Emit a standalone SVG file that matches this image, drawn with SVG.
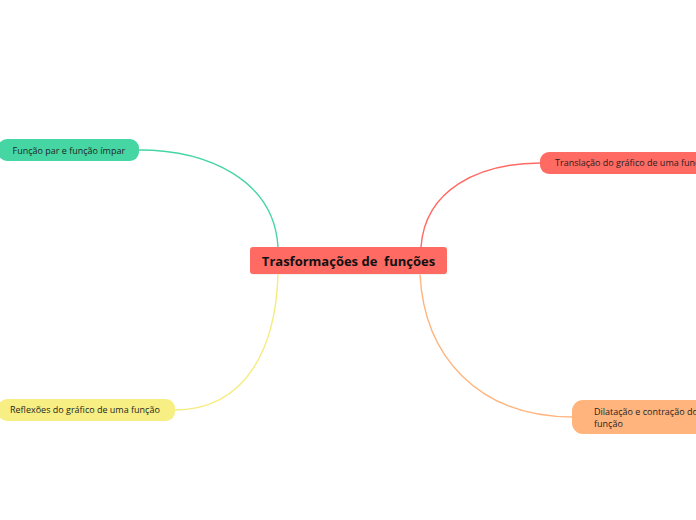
<svg xmlns="http://www.w3.org/2000/svg" width="696" height="520" viewBox="0 0 696 520">
<style>
.lbl{font-family:"Open Sans","Liberation Sans",sans-serif;font-size:9px;fill:#1f1f1f}
.main{font-family:"Open Sans","Liberation Sans",sans-serif;font-size:13px;font-weight:bold;fill:#111;white-space:pre}
.c{fill:none;stroke-width:1.4}
</style>
<rect width="696" height="520" fill="#ffffff"/>
<g id="connectors">
<path class="c" stroke="#46D6A4" d="M139,150 C208,150 274,180 278,247"/>
<path class="c" stroke="#FF6A63" d="M541,163 C478,163 425,190 421,247"/>
<path class="c" stroke="#F5EC7E" d="M278,274 C276,345 248,410 174,410"/>
<path class="c" stroke="#FFB47E" d="M420,274 C424,356 478,417 573,417"/>
</g>
<g id="central">
<rect x="250" y="248" width="197" height="27" rx="3" fill="#e8e8e8" opacity="0.6"/>
<rect x="250" y="247" width="197" height="27" rx="3" fill="#FF6A63"/>
<text class="main" x="348.5" y="266" text-anchor="middle" xml:space="preserve">Trasformações de  funções</text>
</g>
<g id="node-par-impar">
<rect x="-2" y="139" width="141" height="22" rx="9" fill="#46D6A4"/>
<text class="lbl" x="12.5" y="154">Função par e função ímpar</text>
</g>
<g id="node-translacao">
<rect x="540" y="152" width="200" height="22" rx="9" fill="#FF6A63"/>
<text class="lbl" x="555" y="166">Translação do gráfico de uma função</text>
</g>
<g id="node-reflexoes">
<rect x="-2" y="399" width="177" height="22" rx="9" fill="#F7EF84"/>
<text class="lbl" x="10" y="413">Reflexões do gráfico de uma função</text>
</g>
<g id="node-dilatacao">
<rect x="572" y="400" width="170" height="34" rx="11" fill="#FFB47E"/>
<text class="lbl" x="594" y="414.5">Dilatação e contração do gráfico de uma</text>
<text class="lbl" x="594" y="426.5">função</text>
</g>
</svg>
